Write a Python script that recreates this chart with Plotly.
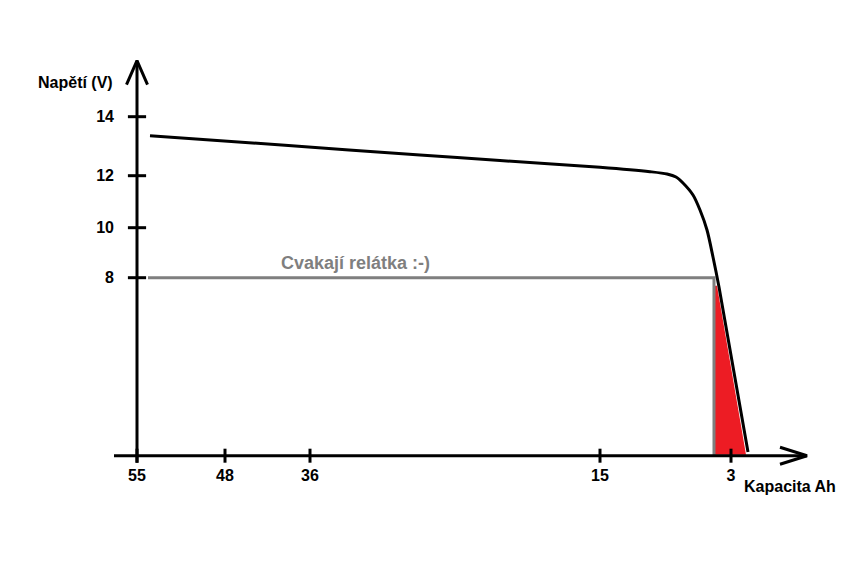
import plotly.graph_objects as go

# Schematic chart: axes are drawn in "drawing units" (the original is a hand-drawn,
# non-linear sketch), tick labels carry the real values.
cap_tick_labels = ["55", "48", "36", "15", "3"]
cap_tick_pos = [0, 88, 173, 463, 594]
volt_tick_labels = ["14", "12", "10", "8"]
volt_tick_pos = [339, 280, 228, 178]

# discharge curve
curve_x = [13, 148, 283, 363, 463, 513, 530, 539, 546, 556, 563, 570, 576, 582, 611]
curve_y = [320, 310.4, 300.7, 295.2, 288.4, 284, 281.7, 278.7, 272.7, 260.7, 245.7, 225.7, 198.7, 168.7, 3.7]

# relay threshold line (8 V)
relay_x = [11, 577, 577]
relay_y = [178, 178, 0]
relay_label = "Cvakají relátka :-)"

# red area under the curve after the relay threshold
red_x = [577, 580, 609, 577]
red_y = [170, 170, 1, 1]

# axis extents
x_axis_x = [-23, 670]
y_axis_y = [-7, 395]

BLACK = "#000000"
GREY = "#7f7f7f"
RED = "#ed1c24"
FONT = "Liberation Sans, Arial, sans-serif"

fig = go.Figure()

# red filled area
fig.add_trace(go.Scatter(x=red_x, y=red_y, mode="lines", fill="toself",
                         fillcolor=RED, line=dict(width=0, color=RED),
                         hoverinfo="skip", showlegend=False))
# relay threshold line
fig.add_trace(go.Scatter(x=relay_x, y=relay_y, mode="lines",
                         line=dict(color=GREY, width=3),
                         hoverinfo="skip", showlegend=False))
# discharge curve
fig.add_trace(go.Scatter(x=curve_x, y=curve_y, mode="lines",
                         line=dict(color=BLACK, width=3, shape="spline", smoothing=0.8),
                         showlegend=False))
# axes lines
fig.add_trace(go.Scatter(x=x_axis_x, y=[0, 0], mode="lines",
                         line=dict(color=BLACK, width=3), hoverinfo="skip", showlegend=False))
fig.add_trace(go.Scatter(x=[0, 0], y=y_axis_y, mode="lines",
                         line=dict(color=BLACK, width=3), hoverinfo="skip", showlegend=False))
# arrow heads (open V)
xe = x_axis_x[1]
fig.add_trace(go.Scatter(x=[xe - 27, xe, xe - 27], y=[8.5, 0, -8.5], mode="lines",
                         line=dict(color=BLACK, width=3), hoverinfo="skip", showlegend=False))
ye = y_axis_y[1]
fig.add_trace(go.Scatter(x=[-10.5, 0, 10.5], y=[ye - 24, ye, ye - 24], mode="lines",
                         line=dict(color=BLACK, width=3), hoverinfo="skip", showlegend=False))
# tick marks crossing the axes
fig.add_trace(go.Scatter(x=cap_tick_pos, y=[0] * len(cap_tick_pos), mode="markers",
                         marker=dict(symbol="line-ns", size=10, line=dict(color=BLACK, width=3)),
                         hoverinfo="skip", showlegend=False))
fig.add_trace(go.Scatter(x=[0] * len(volt_tick_pos), y=volt_tick_pos, mode="markers",
                         marker=dict(symbol="line-ew", size=13, line=dict(color=BLACK, width=3)),
                         hoverinfo="skip", showlegend=False))

# the page body has an 8px margin, so the figure is 8px smaller and shifted
W, H = 842, 559
x_range = [-129, 713]
y_range = [-111.3, 447.7]

fig.update_layout(
    width=W, height=H,
    margin=dict(l=0, r=0, t=0, b=0),
    paper_bgcolor="white", plot_bgcolor="white",
    font=dict(family=FONT, color=BLACK),
    xaxis=dict(range=x_range, anchor="free",
               position=(0 - y_range[0]) / (y_range[1] - y_range[0]),
               tickvals=cap_tick_pos, ticktext=cap_tick_labels,
               tickfont=dict(family=FONT, size=16, color=BLACK, weight="bold"),
               ticks="", showline=False, showgrid=False, zeroline=False,
               ticklabelstandoff=8, fixedrange=True),
    yaxis=dict(range=y_range, anchor="free",
               position=(0 - x_range[0]) / (x_range[1] - x_range[0]),
               tickvals=volt_tick_pos, ticktext=volt_tick_labels,
               tickfont=dict(family=FONT, size=16, color=BLACK, weight="bold"),
               ticks="", showline=False, showgrid=False, zeroline=False,
               ticklabelstandoff=23, fixedrange=True),
    annotations=[
        dict(x=-62, y=373, xref="x", yref="y", text="<b>Napětí (V)</b>", showarrow=False,
             font=dict(family=FONT, size=16, color=BLACK)),
        dict(x=653, y=-31, xref="x", yref="y", text="<b>Kapacita Ah</b>", showarrow=False,
             font=dict(family=FONT, size=16, color=BLACK)),
        dict(x=218, y=193, xref="x", yref="y", text="<b>" + relay_label + "</b>", showarrow=False,
             font=dict(family=FONT, size=18, color=GREY)),
    ],
)

fig.write_html("out.html")
